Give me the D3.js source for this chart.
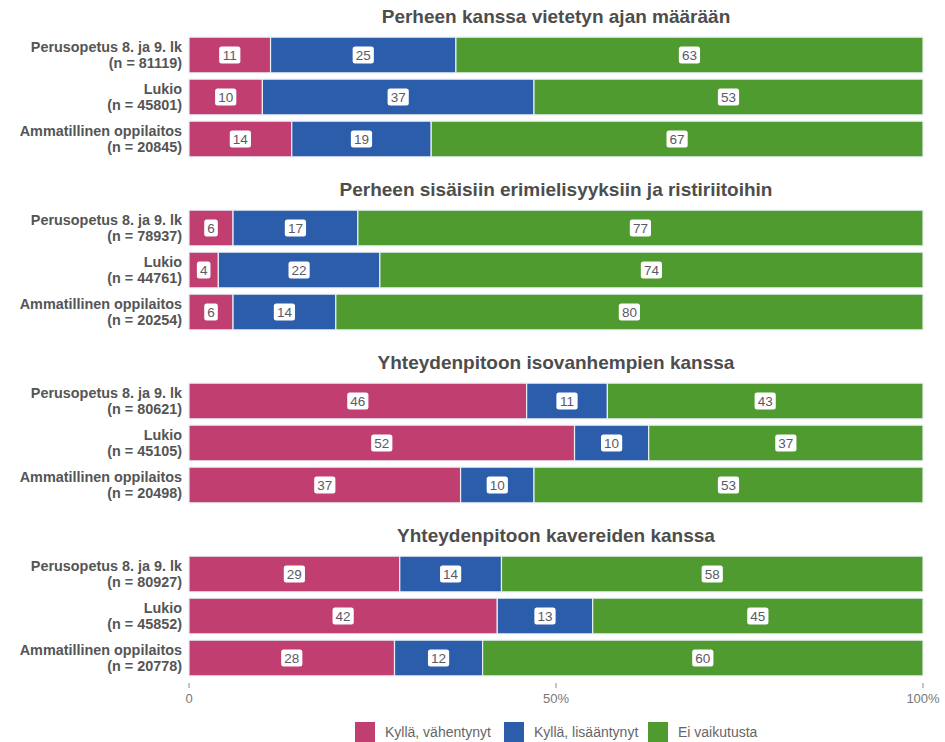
<!DOCTYPE html>
<html><head><meta charset="utf-8">
<script src="https://cdn.jsdelivr.net/npm/d3@7"></script>
<style>body{margin:0;background:#fff}svg{display:block}</style>
</head><body>
<svg id="c" width="945" height="742"></svg>
<script>
const panels = [
  "Perheen kanssa vietetyn ajan määrään",
  "Perheen sisäisiin erimielisyyksiin ja ristiriitoihin",
  "Yhteydenpitoon isovanhempien kanssa",
  "Yhteydenpitoon kavereiden kanssa"
];
const groups = ["Perusopetus 8. ja 9. lk", "Lukio", "Ammatillinen oppilaitos"];
const nValues = [
  [81119, 45801, 20845],
  [78937, 44761, 20254],
  [80621, 45105, 20498],
  [80927, 45852, 20778]
];
const seriesNames = ["Kyllä, vähentynyt", "Kyllä, lisääntynyt", "Ei vaikutusta"];
const vahentynyt = [[11,10,14],[6,4,6],[46,52,37],[29,42,28]];
const lisaantynyt = [[25,37,19],[17,22,14],[11,10,10],[14,13,12]];
const eiVaikutusta = [[63,53,67],[77,74,80],[43,37,53],[58,45,60]];
const ticks = [0, 50, 100];
const tickLabels = ["0", "50%", "100%"];
const colors = ["#C13E70", "#2C5DAB", "#4F9B2F"];

const svg = d3.select("#c");
const x = d3.scaleLinear().domain([0, 100]).range([189, 923]);
const panelY = d3.scaleLinear().domain([0, 1]).range([34, 207]);
const font = "'Liberation Sans', Arial, sans-serif";
const series = [vahentynyt, lisaantynyt, eiVaikutusta];

panels.forEach((title, p) => {
  const y0 = panelY(p);
  const y = d3.scaleBand().domain(groups).range([y0, y0 + 126]).paddingInner(0.15).paddingOuter(0.075);
  const g = svg.append("g");
  g.append("text").attr("x", (x(0) + x(100)) / 2).attr("y", y0 - 11)
    .attr("text-anchor", "middle").attr("font-family", font).attr("font-weight", "bold")
    .attr("font-size", 19).attr("fill", "#4d4d4d").text(title);
  groups.forEach((grp, r) => {
    const lbl = g.append("text").attr("text-anchor", "end").attr("font-family", font)
      .attr("font-weight", "bold").attr("font-size", 14.4).attr("fill", "#555");
    const cy = y(grp) + y.bandwidth() / 2;
    lbl.append("tspan").attr("x", 182).attr("y", cy - 3).text(grp);
    lbl.append("tspan").attr("x", 182).attr("y", cy + 13).text("(n = " + nValues[p][r] + ")");
    const total = d3.sum(series, s => s[p][r]);
    let acc = 0;
    series.forEach((s, k) => {
      const v = s[p][r];
      const share = v / total * 100;
      const x0 = acc, x1 = acc + share;
      acc = x1;
      g.append("rect").attr("x", x(x0)).attr("y", y(grp)).attr("width", x(x1) - x(x0))
        .attr("height", y.bandwidth()).attr("fill", colors[k])
        .attr("stroke", "#e8eef5").attr("stroke-width", 1.2);
      const cx = (x(x0) + x(x1)) / 2;
      const t = String(v);
      const w = t.length * 7.6 + 6;
      g.append("rect").attr("x", cx - w / 2).attr("y", cy - 8.5).attr("width", w).attr("height", 17)
        .attr("rx", 2.5).attr("fill", "#fff");
      g.append("text").attr("x", cx).attr("y", cy + 5).attr("text-anchor", "middle")
        .attr("font-family", font).attr("font-size", 13.5).attr("fill", "#5a5a66").text(t);
    });
  });
});

// axis
const ax = svg.append("g");
ticks.forEach((tv, i) => {
  ax.append("line").attr("x1", x(tv)).attr("x2", x(tv)).attr("y1", 683).attr("y2", 688)
    .attr("stroke", "#888").attr("stroke-width", 1);
  ax.append("text").attr("x", x(tv)).attr("y", 703).attr("text-anchor", "middle")
    .attr("font-family", font).attr("font-size", 13).attr("fill", "#777").text(tickLabels[i]);
});

// legend
const legX = [355, 504, 648];
seriesNames.forEach((nm, k) => {
  svg.append("rect").attr("x", legX[k]).attr("y", 722).attr("width", 20).attr("height", 20).attr("fill", colors[k]);
  svg.append("text").attr("x", legX[k] + 30).attr("y", 737).attr("font-family", font)
    .attr("font-size", 14).attr("fill", "#666").text(nm);
});
</script>
</body></html>
